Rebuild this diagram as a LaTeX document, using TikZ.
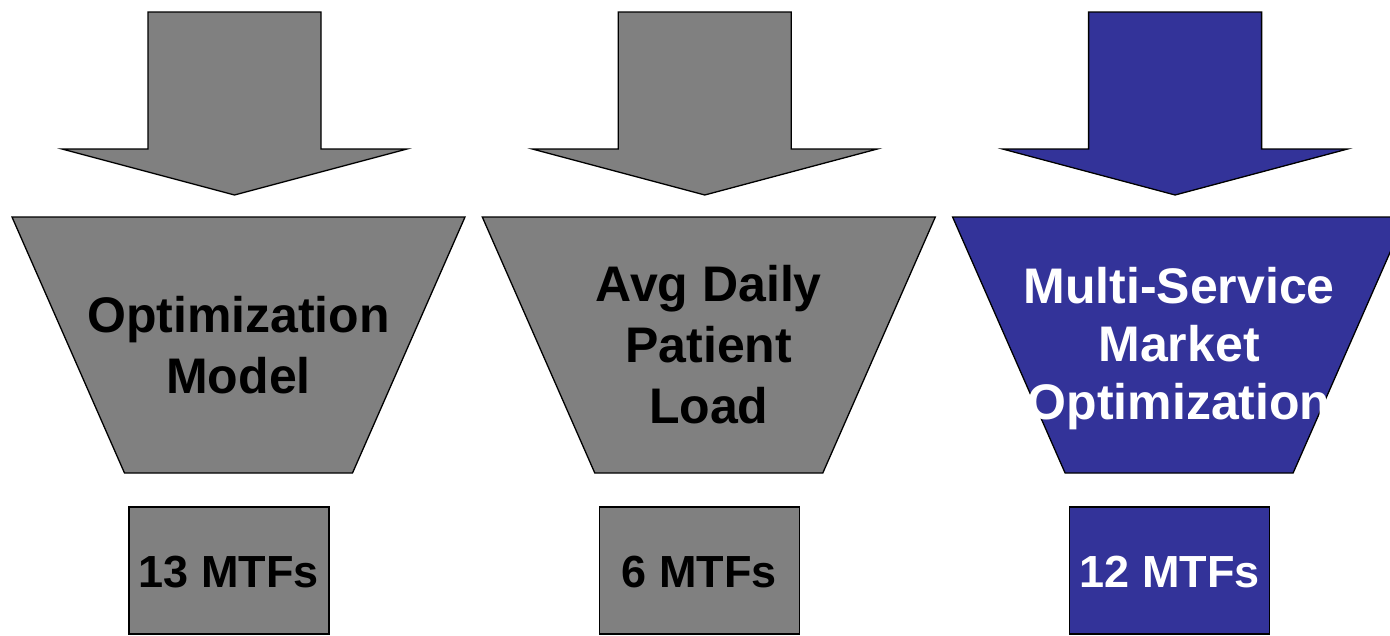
\documentclass[tikz,border=0pt]{standalone}
\usepackage{fontspec}
\setmainfont{Liberation Sans}
\definecolor{shapegray}{RGB}{128,128,128}
\definecolor{shapeblue}{RGB}{51,51,153}
\tikzset{
  outline/.style={draw=black, line width=1.3pt, line join=miter},
  bigtext/.style={font=\fontsize{50}{61}\selectfont\bfseries, align=center, inner sep=0pt},
  boxtext/.style={font=\fontsize{45}{54}\selectfont\bfseries, inner sep=0pt}
}
\begin{document}
\begin{tikzpicture}[x=1pt,y=-1pt]
\useasboundingbox (0,0) rectangle (1390,635);
\clip (0,0) rectangle (1390,635);
\foreach \i/\fc/\tc in {0/shapegray/black,1/shapegray/black,2/shapeblue/white}{
  \pgfmathsetmacro{\ax}{234.5+470.3*\i}
  \pgfmathsetmacro{\tx}{238.5+470.3*\i}
  \pgfmathsetmacro{\bx}{229+470.3*\i}
  % down arrow
  \path[outline, fill=\fc] (\ax-86.5,12) -- (\ax+86.5,12) -- (\ax+86.5,149) -- (\ax+172.5,149)
     -- (\ax,195) -- (\ax-172.5,149) -- (\ax-86.5,149) -- cycle;
  % funnel trapezoid
  \path[outline, fill=\fc] (\tx-226.5,217) -- (\tx+226.5,217) -- (\tx+114,473) -- (\tx-114,473) -- cycle;
  % result box
  \path[outline, fill=\fc] (\bx-100,507) rectangle (\bx+100,634);
}
\node[bigtext, text=black] (t1) at (238.5,345) {Optimization\\Model};
\node[bigtext, text=black] (t2) at (708.8,345) {Avg Daily\\Patient\\Load};
\node[bigtext, text=white, font=\fontsize{50}{58}\selectfont\bfseries] (t3) at (1179.1,349) {Multi-Service\\Market\\Optimization};
\node[boxtext, text=black] (b1) at (229,572) {13 MTFs};
\node[boxtext, text=black] (b2) at (699.3,572) {6 MTFs};
\node[boxtext, text=white] (b3) at (1169.6,572) {12 MTFs};
\end{tikzpicture}
\end{document}
